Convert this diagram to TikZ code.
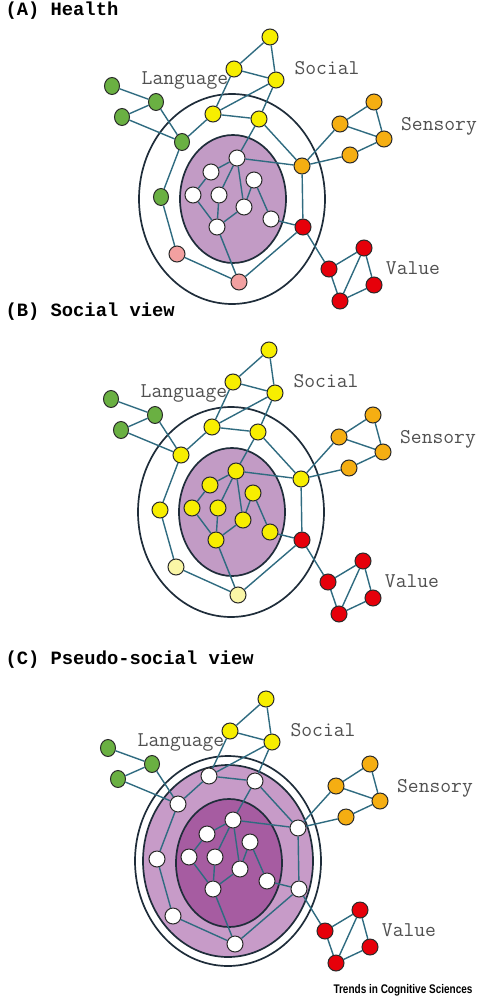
\documentclass[tikz,border=0pt]{standalone}
\usepackage{fontspec}
\setmonofont{Liberation Mono}
\newfontfamily\labelfont{Latin Modern Mono}
\newfontfamily\trendsfont{Liberation Sans}
\usetikzlibrary{shapes.geometric}

\definecolor{linkteal}{HTML}{2F6B80}
\definecolor{rimdark}{HTML}{1F2D3A}
\definecolor{nodeline}{HTML}{2A2A2A}
\definecolor{labelgray}{HTML}{505050}
\definecolor{socyellow}{HTML}{F7EE00}
\definecolor{paleyellow}{HTML}{FAF6A6}
\definecolor{langgreen}{HTML}{6AB042}
\definecolor{sensorange}{HTML}{F5AE12}
\definecolor{valred}{HTML}{E6000A}
\definecolor{basepink}{HTML}{F2A0A0}
\definecolor{corepurple}{HTML}{C29BC5}
\definecolor{ringpurple}{HTML}{C79BC8}
\definecolor{deeppurple}{HTML}{A65CA1}

\tikzset{
  nd/.style={circle, draw=nodeline, line width=1pt, minimum size=16pt, inner sep=0pt},
  greennd/.style={ellipse, draw=nodeline, line width=1pt, minimum width=15pt,
    minimum height=17pt, inner sep=0pt, fill=langgreen},
  link/.style={linkteal, line width=1.4pt},
  rim/.style={draw=rimdark, line width=1.7pt},
  grouplabel/.style={font=\labelfont\fontsize{21}{22}\selectfont, text=labelgray},
  paneltitle/.style={font=\ttfamily\bfseries\fontsize{18.8}{20}\selectfont, anchor=west},
  % fills that change from panel to panel
  corenode/.style={nd, fill=white},
  socring/.style={nd, fill=socyellow},
  langring/.style={greennd},
  basering/.style={nd, fill=basepink},
  sensring/.style={nd, fill=sensorange},
  valring/.style={nd, fill=valred}
}

% the network, in the coordinates of panel (A)
\newcommand{\network}{%
  \node[nd, fill=socyellow] (s1) at (270,37) {};
  \node[nd, fill=socyellow] (s2) at (234,69) {};
  \node[nd, fill=socyellow] (s3) at (276,80) {};
  \node[socring] (s4) at (213,114) {};
  \node[socring] (s5) at (259,119) {};
  \node[greennd] (l1) at (112,86) {};
  \node[greennd] (l2) at (156,102) {};
  \node[greennd] (l3) at (122,117) {};
  \node[langring] (l4) at (182,142) {};
  \node[langring] (l5) at (161,197) {};
  \node[basering] (p1) at (177,254) {};
  \node[basering] (p2) at (239,282) {};
  \node[nd, fill=sensorange] (o1) at (374,102) {};
  \node[nd, fill=sensorange] (o2) at (340,124) {};
  \node[nd, fill=sensorange] (o3) at (384,139) {};
  \node[nd, fill=sensorange] (o4) at (350,155) {};
  \node[sensring] (o5) at (302,166) {};
  \node[valring] (r1) at (303,227) {};
  \node[nd, fill=valred] (r2) at (364,248) {};
  \node[nd, fill=valred] (r3) at (329,269) {};
  \node[nd, fill=valred] (r4) at (374,285) {};
  \node[nd, fill=valred] (r5) at (340,301) {};
  \node[corenode] (w1) at (237,158) {};
  \node[corenode] (w2) at (211,172) {};
  \node[corenode] (w3) at (254,180) {};
  \node[corenode] (w4) at (193,195) {};
  \node[corenode] (w5) at (219,195) {};
  \node[corenode] (w6) at (244,207) {};
  \node[corenode] (w7) at (271,219) {};
  \node[corenode] (w8) at (217,227) {};
  \foreach \a/\b in {s1/s2, s1/s3, s2/s3, s2/s4, s3/s4, s3/s5, s4/s5, s4/l4,
      s5/w1, s5/o5, l1/l2, l2/l3, l3/l4, l2/l4, l4/l5, l5/p1, p1/p2, p2/r1,
      p2/w8, o5/r1, r1/w7, r1/r3, r2/r3, r2/r4, r2/r5, r3/r5, r4/r5,
      o5/o2, o2/o1, o1/o3, o2/o3, o3/o4, o4/o5, o5/w1,
      w1/w2, w1/w5, w1/w6, w2/w4, w4/w8, w5/w8, w6/w8, w3/w6, w3/w7}
    \draw[link] (\a) -- (\b);
  \node[grouplabel] (langlbl) at (185,80) {Language};
  \node[grouplabel] (soclbl) at (327,68) {Social};
  \node[grouplabel] (senslbl) at (439,126) {Sensory};
  \node[grouplabel] (vallbl) at (413,268) {Value};
}

\begin{document}
\begin{tikzpicture}[x=1pt, y=-1pt]
    \useasboundingbox (0,0) rectangle (483,1000);

    % (A) health
    \node[paneltitle] (titleA) at (2,11) {(A) Health};
    \draw[rim] (232,199) ellipse [x radius=93, y radius=105];
    \filldraw[rim, fill=corepurple] (233,199) ellipse [x radius=53, y radius=64];
    \network

    % (B) social view
    \node[paneltitle] (titleB) at (2,312) {(B) Social view};
    \begin{scope}[shift={(-1,313)},
        corenode/.style={nd, fill=socyellow},
        langring/.style={nd, fill=socyellow},
        sensring/.style={nd, fill=socyellow},
        basering/.style={nd, fill=paleyellow}]
      \draw[rim] (232,199) ellipse [x radius=93, y radius=105];
      \filldraw[rim, fill=corepurple] (233,199) ellipse [x radius=53, y radius=64];
      \network
    \end{scope}

    % (C) pseudo-social view
    \node[paneltitle] (titleC) at (2,660) {(C) Pseudo-social view};
    \begin{scope}[shift={(-4,662)},
        socring/.style={nd, fill=white},
        langring/.style={nd, fill=white},
        sensring/.style={nd, fill=white},
        basering/.style={nd, fill=white},
        valring/.style={nd, fill=white}]
      \draw[rim] (232,199) ellipse [x radius=93, y radius=105];
      \filldraw[rim, fill=ringpurple] (232,199) ellipse [x radius=85, y radius=96];
      \filldraw[rim, fill=deeppurple] (233,201) ellipse [x radius=53, y radius=64];
      \network
    \end{scope}

    \node (journal) at (403,990)
        {\scalebox{0.8}[1]{\trendsfont\bfseries\fontsize{12.5}{14}\selectfont Trends in Cognitive Sciences}};
\end{tikzpicture}
\end{document}
